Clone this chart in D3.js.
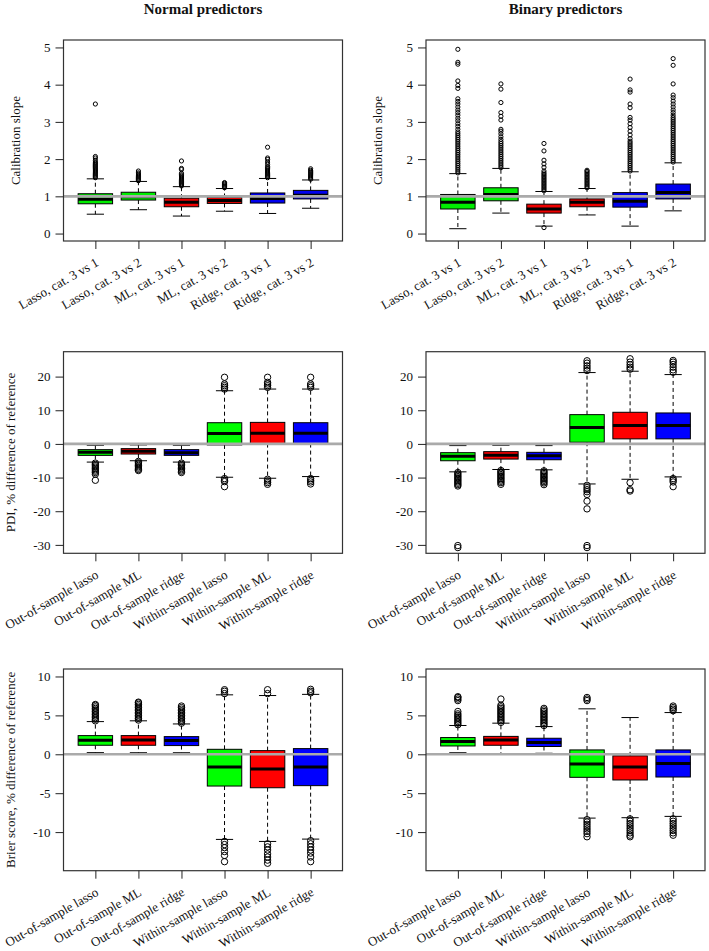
<!DOCTYPE html>
<html><head><meta charset="utf-8">
<script src="https://cdn.jsdelivr.net/npm/d3@7"></script>
<style>
body{margin:0;background:#fff}
svg{display:block}
text{font-family:"Liberation Serif","Times New Roman",serif;fill:#111}
</style>
</head><body><svg id="c" width="709" height="951"></svg>
<script>
// ---------- DATA ----------
const columnTitles = ["Normal predictors", "Binary predictors"];
const calCategories = ["Lasso, cat. 3 vs 1","Lasso, cat. 3 vs 2","ML, cat. 3 vs 1","ML, cat. 3 vs 2","Ridge, cat. 3 vs 1","Ridge, cat. 3 vs 2"];
const perfCategories = ["Out-of-sample lasso","Out-of-sample ML","Out-of-sample ridge","Within-sample lasso","Within-sample ML","Within-sample ridge"];
const calColors = ["#00ee00","#00ee00","#ee0000","#ee0000","#0000ee","#0000ee"];
const perfColors = ["#00ff00","#ff0000","#0000ff","#00ff00","#ff0000","#0000ff"];

const calTicks = [0,1,2,3,4,5];
const pdiTicks = [-30,-20,-10,0,10,20];
const brierTicks = [-10,-5,0,5,10];

// stats: [lower whisker, Q1, median, Q3, upper whisker]
const calNormalStats = [[0.52,0.80,0.92,1.07,1.47],[0.64,0.90,0.99,1.11,1.40],[0.47,0.72,0.84,0.95,1.26],[0.60,0.81,0.89,0.97,1.21],[0.54,0.82,0.94,1.09,1.48],[0.68,0.93,1.03,1.16,1.44]];
const calNormalOut = [
 [1.50,1.53,1.56,1.59,1.62,1.65,1.68,1.71,1.74,1.77,1.80,1.83,1.86,1.89,1.92,1.97,2.03,2.07,3.48],
 [1.42,1.45,1.48,1.51,1.54,1.57,1.60,1.63,1.68],
 [1.28,1.31,1.34,1.37,1.40,1.43,1.46,1.49,1.52,1.55,1.58,1.62,1.72,1.75,1.95],
 [1.23,1.26,1.29,1.32,1.35,1.37],
 [1.50,1.53,1.56,1.59,1.62,1.65,1.68,1.71,1.74,1.77,1.80,1.86,1.92,1.99,2.03,2.32],
 [1.46,1.49,1.52,1.55,1.58,1.61,1.64,1.67,1.70,1.74]
];
const calBinaryStats = [[0.13,0.66,0.84,1.05,1.61],[0.55,0.88,1.05,1.23,1.75],[0.20,0.55,0.66,0.79,1.13],[0.50,0.72,0.84,0.93,1.21],[0.20,0.71,0.87,1.10,1.66],[0.61,0.93,1.10,1.33,1.90]];
const calBinaryOut = [
 [1.63,1.68,1.73,1.78,1.83,1.88,1.93,1.98,2.03,2.08,2.13,2.18,2.23,2.28,2.33,2.38,2.43,2.48,2.53,2.58,2.63,2.68,2.73,2.80,2.88,2.95,3.03,3.10,3.18,3.25,3.32,3.40,3.48,3.55,3.62,3.90,3.98,4.10,4.55,4.60,4.95],
 [1.77,1.82,1.87,1.92,1.97,2.02,2.07,2.12,2.17,2.22,2.27,2.32,2.37,2.42,2.47,2.53,2.60,2.68,2.75,2.80,3.05,3.15,3.25,3.52,3.88,4.02],
 [1.15,1.19,1.23,1.27,1.31,1.35,1.39,1.43,1.47,1.51,1.55,1.59,1.63,1.68,1.78,1.87,1.97,2.22,2.42,0.16],
 [1.23,1.27,1.31,1.35,1.39,1.43,1.47,1.51,1.55,1.59,1.63,1.67,1.70],
 [1.68,1.73,1.78,1.83,1.88,1.93,1.98,2.03,2.08,2.13,2.18,2.23,2.28,2.33,2.38,2.43,2.48,2.55,2.65,2.75,2.85,2.95,3.05,3.12,3.38,3.48,3.80,3.86,4.15],
 [1.92,1.97,2.02,2.07,2.12,2.17,2.22,2.27,2.32,2.37,2.42,2.47,2.52,2.57,2.62,2.67,2.72,2.77,2.82,2.87,2.92,2.97,3.02,3.07,3.12,3.18,3.25,3.32,3.40,3.48,3.56,3.65,3.72,4.02,4.52,4.70]
];
const pdiNormalStats = [[-5.4,-3.4,-2.5,-1.7,-0.4],[-5.0,-3.0,-2.2,-1.4,-0.3],[-5.4,-3.4,-2.6,-1.7,-0.4],[-9.9,-0.3,3.1,6.3,15.8],[-10.2,0.1,3.2,6.4,16.3],[-9.7,0.1,3.2,6.3,16.3]];
const pdiNormalOut = [
 [-5.7,-6.1,-6.5,-6.9,-7.3,-7.7,-8.1,-8.5,-9.0,-10.8],
 [-5.2,-5.6,-6.0,-6.4,-6.8,-7.2,-7.6,-7.9],
 [-5.7,-6.1,-6.5,-6.9,-7.3,-7.7,-8.1,-8.5],
 [16.3,16.8,17.3,17.8,19.8,-10.3,-10.8,-11.2,-12.7],
 [16.8,17.3,17.8,18.3,19.8,-10.5,-11.0,-11.5,-12.0],
 [16.8,17.3,17.8,19.8,-10.3,-10.8,-11.3,-11.9]
];
const pdiBinaryStats = [[-8.3,-5.0,-3.7,-2.6,-0.5],[-7.6,-4.5,-3.4,-2.3,-0.4],[-7.7,-4.7,-3.5,-2.5,-0.5],[-11.9,0.5,4.85,8.7,21.2],[-10.5,1.5,5.5,9.4,21.6],[-9.8,1.5,5.5,9.2,20.6]];
const pdiBinaryOut = [
 [-8.5,-8.9,-9.3,-9.7,-10.1,-10.5,-10.9,-11.3,-11.7,-12.1,-12.5,-30.2,-30.8],
 [-7.9,-8.3,-8.7,-9.1,-9.5,-9.9,-10.3,-10.7,-11.1,-11.5,-12.0],
 [-8.0,-8.4,-8.8,-9.2,-9.6,-10.0,-10.4,-10.8,-11.2,-11.6,-12.1],
 [21.8,22.5,23.2,24.0,24.7,-12.3,-13.0,-13.6,-14.2,-15.0,-17.0,-19.3,-30.2,-30.8],
 [22.2,22.8,23.5,24.3,25.3,-11.5,-13.6,-14.0],
 [21.3,22.0,22.8,23.6,24.3,24.8,-10.3,-10.8,-11.3,-12.7]
];
const brierNormalStats = [[0.21,1.16,1.80,2.40,4.20],[0.20,1.16,1.85,2.40,4.30],[0.20,1.12,1.76,2.27,3.90],[-10.94,-4.08,-1.63,0.64,7.64],[-11.2,-4.30,-1.90,0.47,7.55],[-10.9,-4.03,-1.63,0.73,7.70]];
const brierNormalOut = [
 [4.3,4.5,4.7,4.9,5.1,5.3,5.5,5.7,5.9,6.1,6.3,6.4],
 [4.4,4.6,4.8,5.0,5.2,5.4,5.6,5.8,6.0,6.2,6.4,6.6,6.7],
 [4.0,4.2,4.4,4.6,4.8,5.0,5.2,5.4,5.6,5.8,6.0,6.2],
 [7.8,8.1,8.3,-11.2,-11.6,-12.0,-12.5,-13.0,-13.8],
 [7.8,8.3,-11.5,-11.9,-12.3,-12.8,-13.2,-13.6,-14.0],
 [7.9,8.1,8.35,-11.1,-11.5,-11.9,-12.3,-12.7,-13.2,-13.8]
];
const brierBinaryStats = [[0.20,1.07,1.63,2.15,3.70],[0.05,1.16,1.85,2.30,4.00],[0.13,1.00,1.50,2.06,3.56],[-8.2,-2.96,-1.24,0.56,5.84],[-8.15,-3.30,-1.63,-0.20,4.72],[-7.98,-2.92,-1.20,0.56,5.36]];
const brierBinaryOut = [
 [3.8,4.0,4.2,4.4,4.6,4.8,5.0,5.2,5.5,6.9,7.1,7.3,7.4],
 [4.1,4.3,4.5,4.7,4.9,5.1,5.3,5.5,5.7,5.9,6.1,6.3,7.1],
 [3.7,3.9,4.1,4.3,4.5,4.7,4.9,5.1,5.3,5.5,5.7,5.9],
 [6.9,7.1,7.3,-8.4,-8.7,-9.0,-9.3,-9.6,-9.9,-10.2,-10.6],
 [-8.3,-8.6,-8.9,-9.2,-9.5,-9.8,-10.1,-10.4,-10.6],
 [5.6,5.8,6.0,6.2,-8.3,-8.6,-8.9,-9.2,-9.5,-9.8,-10.1,-10.4]
];

// ---------- LAYOUT ----------
const svg = d3.select("#c");
const cols = [{x0:63.5, x1:342.5}, {x0:426, x1:705}];
const rows = [
 {y0:40, y1:241, domain:[-0.2,5.2], ticks:calTicks, r:2.1, title:"Calibration slope", titleOff:44},
 {y0:351.7, y1:553.3, domain:[-32.5,27.4], ticks:pdiTicks, r:3.2, title:"PDI, % difference of reference", titleOff:49},
 {y0:669, y1:870.7, domain:[-14.96,10.96], ticks:brierTicks, r:3.2, title:"Brier score, % difference of reference", titleOff:49}
];
const panels = [
 {row:0,col:0,cats:calCategories,colors:calColors,stats:calNormalStats,out:calNormalOut,ylab:true},
 {row:0,col:1,cats:calCategories,colors:calColors,stats:calBinaryStats,out:calBinaryOut,ylab:true},
 {row:1,col:0,cats:perfCategories,colors:perfColors,stats:pdiNormalStats,out:pdiNormalOut,ylab:true},
 {row:1,col:1,cats:perfCategories,colors:perfColors,stats:pdiBinaryStats,out:pdiBinaryOut,ylab:false},
 {row:2,col:0,cats:perfCategories,colors:perfColors,stats:brierNormalStats,out:brierNormalOut,ylab:true},
 {row:2,col:1,cats:perfCategories,colors:perfColors,stats:brierBinaryStats,out:brierBinaryOut,ylab:false}
];

// column titles
columnTitles.forEach((t,i)=>{
  svg.append("text").attr("x",(cols[i].x0+cols[i].x1)/2).attr("y",13.5)
    .attr("text-anchor","middle").attr("font-size",15).attr("font-weight","bold").text(t);
});

panels.forEach(p=>{
  const R = rows[p.row], C = cols[p.col];
  const g = svg.append("g");
  const x = d3.scaleLinear().domain([0.26,6.74]).range([C.x0,C.x1]);
  const y = d3.scaleLinear().domain(R.domain).range([R.y1,R.y0]);
  const bw = x(0.4)-x(0);   // half box width (boxwex 0.8)
  const sw = x(0.2)-x(0);   // half staple width

  p.stats.forEach((s,i)=>{
    const cx = x(i+1);
    const [lo,q1,md,q3,hi] = s;
    // whiskers
    g.append("line").attr("x1",cx).attr("x2",cx).attr("y1",y(q3)).attr("y2",y(hi))
      .attr("stroke","#000").attr("stroke-width",1).attr("stroke-dasharray","4,3");
    g.append("line").attr("x1",cx).attr("x2",cx).attr("y1",y(q1)).attr("y2",y(lo))
      .attr("stroke","#000").attr("stroke-width",1).attr("stroke-dasharray","4,3");
    [lo,hi].forEach(v=>g.append("line").attr("x1",cx-sw).attr("x2",cx+sw).attr("y1",y(v)).attr("y2",y(v))
      .attr("stroke","#000").attr("stroke-width",1));
    // box
    g.append("rect").attr("x",cx-bw).attr("width",2*bw).attr("y",y(q3)).attr("height",y(q1)-y(q3))
      .attr("fill",p.colors[i]).attr("stroke","#000").attr("stroke-width",1);
    g.append("line").attr("x1",cx-bw).attr("x2",cx+bw).attr("y1",y(md)).attr("y2",y(md))
      .attr("stroke","#000").attr("stroke-width",3);
    // outliers
    g.selectAll(null).data(p.out[i]).enter().append("circle")
      .attr("cx",cx).attr("cy",d=>y(d)).attr("r",R.r)
      .attr("fill","none").attr("stroke","#000").attr("stroke-width",1);
  });

  // reference line
  const refV = p.row===0 ? 1 : 0;
  g.append("line").attr("x1",C.x0).attr("x2",C.x1).attr("y1",y(refV)).attr("y2",y(refV))
    .attr("stroke","#aaaaaa").attr("stroke-width",2.6);

  // frame
  g.append("rect").attr("x",C.x0).attr("y",R.y0).attr("width",C.x1-C.x0).attr("height",R.y1-R.y0)
    .attr("fill","none").attr("stroke","#333").attr("stroke-width",1.2);

  // y axis
  const ya = d3.axisLeft(y).tickValues(R.ticks).tickSize(8).tickPadding(5).tickFormat(d=>String(d));
  const yg = g.append("g").attr("transform",`translate(${C.x0},0)`).call(ya);
  yg.select(".domain").remove();
  yg.selectAll("line").attr("stroke","#222");
  yg.selectAll("text").attr("font-size",13).attr("font-family","Liberation Serif, Times New Roman, serif").attr("fill","#111");

  // x axis ticks
  const xa = d3.axisBottom(x).tickValues([1,2,3,4,5,6]).tickSize(8).tickFormat("");
  const xg = g.append("g").attr("transform",`translate(0,${R.y1})`).call(xa);
  xg.select(".domain").remove();
  xg.selectAll("line").attr("stroke","#222");

  // x labels rotated
  p.cats.forEach((c,i)=>{
    g.append("text").attr("text-anchor","end").attr("font-size",13)
      .attr("transform",`translate(${x(i+1)+4},${R.y1+24}) rotate(-30)`).text(c);
  });

  // y title
  if(p.ylab){
    g.append("text").attr("text-anchor","middle").attr("font-size",13)
      .attr("transform",`translate(${C.x0-R.titleOff},${(R.y0+R.y1)/2}) rotate(-90)`).text(R.title);
  }
});
</script>
</body></html>
